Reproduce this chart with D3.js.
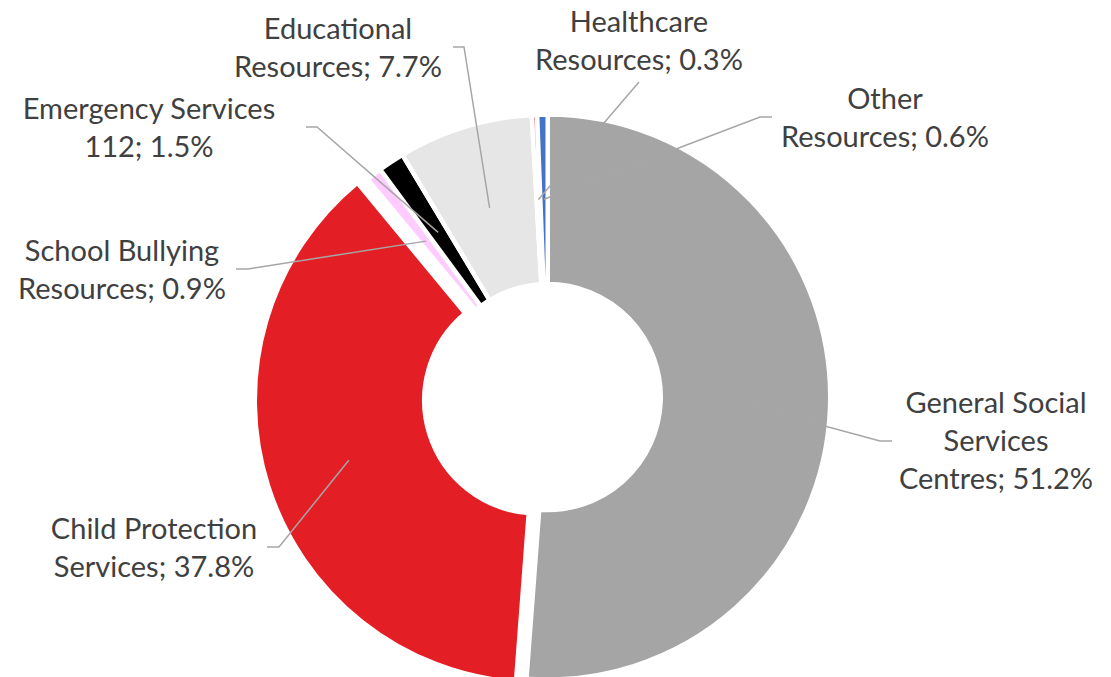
<!DOCTYPE html>
<html>
<head>
<meta charset="utf-8">
<script src="https://cdn.jsdelivr.net/npm/d3@7"></script>
<style>
  body { margin: 0; background: #fff; }
  svg { display: block; }
  .label text { font-family: Lato, "Open Sans", sans-serif; fill: #404040; }
</style>
</head>
<body>
<svg id="chart"></svg>
<script>
// slices in clockwise order from 12 o'clock
const categories = [
  "General Social Services Centres",
  "Child Protection Services",
  "School Bullying Resources",
  "Emergency Services 112",
  "Educational Resources",
  "Healthcare Resources",
  "Other Resources",
];
const shares = [51.2, 37.8, 0.9, 1.5, 7.7, 0.3, 0.6];
const labelLines = [
  ["General Social", "Services", "Centres"],
  ["Child Protection", "Services"],
  ["School Bullying", "Resources"],
  ["Emergency Services", "112"],
  ["Educational", "Resources"],
  ["Healthcare", "Resources"],
  ["Other", "Resources"],
];
const sliceColors = ["#a5a5a5", "#e31e24", "#ffccff", "#000000", "#e7e6e6", "#ff7c80", "#4472c4"];

// layout (label centre x, first baseline y, leader start and elbow)
const width = 1111, height = 677;
const cx = 547.75, cy = 397;
const outerR = 282.5, innerR = 113;
const explode = [0, 11, 0, 0, 0, 0, 0];
const labelPos = [
  { x: 996, y: 413, sx: 892, sy: 441, ex: 880, ey: 441 },
  { x: 154, y: 539, sx: 267, sy: 547, ex: 279, ey: 547 },
  { x: 122, y: 261, sx: 236, sy: 269, ex: 248, ey: 269 },
  { x: 149, y: 119, sx: 306, sy: 127, ex: 317, ey: 127 },
  { x: 338, y: 39, sx: 453, sy: 47, ex: 464, ey: 47 },
  { x: 639, y: 32, sx: 639, sy: 82, ex: 639, ey: 82 },
  { x: 885, y: 109, sx: 772, sy: 117, ex: 760, ey: 117 },
];
const lineHeight = 38;

const svg = d3.select("#chart").attr("width", width).attr("height", height);
const g = svg.append("g").attr("transform", `translate(${cx},${cy})`);

const pie = d3.pie().sort(null).value((d) => d.value);
const arcs = pie(categories.map((c, i) => ({ key: c, value: shares[i], i })));

const arc = d3.arc().innerRadius(innerR).outerRadius(outerR);

function offset(d) {
  const a = (d.startAngle + d.endAngle) / 2;
  const e = explode[d.data.i];
  return [Math.sin(a) * e, -Math.cos(a) * e];
}

g.selectAll("path.slice")
  .data(arcs)
  .join("path")
  .attr("class", "slice")
  .attr("d", arc)
  .attr("transform", (d) => `translate(${offset(d)})`)
  .attr("fill", (d) => sliceColors[d.data.i])
  .attr("stroke", "#fff")
  .attr("stroke-width", 4.5);

// leader lines end at the slice centroid
svg.selectAll("path.leader")
  .data(arcs)
  .join("path")
  .attr("class", "leader")
  .attr("fill", "none")
  .attr("stroke", "#a6a6a6")
  .attr("stroke-width", 1.5)
  .attr("d", (d) => {
    const p = labelPos[d.data.i];
    const c = arc.centroid(d);
    const o = offset(d);
    return d3.line()([
      [p.sx, p.sy],
      [p.ex, p.ey],
      [cx + c[0] + o[0], cy + c[1] + o[1]],
    ]);
  });

const labels = svg.selectAll("g.label")
  .data(arcs)
  .join("g")
  .attr("class", "label");

labels.each(function (d) {
  const i = d.data.i;
  const lines = labelLines[i].slice();
  lines[lines.length - 1] += `; ${shares[i].toFixed(1)}%`;
  const p = labelPos[i];
  d3.select(this)
    .selectAll("text")
    .data(lines)
    .join("text")
    .attr("x", p.x)
    .attr("y", (t, k) => p.y + k * lineHeight)
    .attr("text-anchor", "middle")
    .attr("font-size", 29)
    .text((t) => t);
});
</script>
</body>
</html>
